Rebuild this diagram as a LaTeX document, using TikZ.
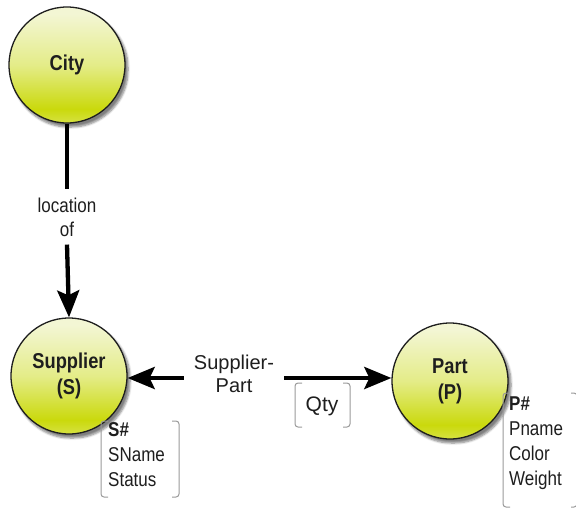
\documentclass[tikz,border=0pt]{standalone}
\usepackage{fontspec}
\setmainfont{Liberation Sans}[FakeStretch=0.85]
\newfontfamily\widesans{Liberation Sans}
\usetikzlibrary{arrows.meta,shadows.blur}

\definecolor{ballTop}{HTML}{F3F6D4}
\definecolor{ballMid}{HTML}{E4EC88}
\definecolor{ballBot}{HTML}{CAD90C}
\definecolor{ballRim}{HTML}{D4E03A}
\definecolor{bracketGray}{HTML}{9A9A9A}
\definecolor{inkDark}{HTML}{1E1E1E}

% vertical gradient of the entity balls (0bp = bottom, visible band 25bp..75bp)
\pgfdeclareverticalshading{ballshade}{100bp}{%
  color(0bp)=(ballRim); color(26bp)=(ballRim); color(31bp)=(ballBot);
  color(50bp)=(ballMid); color(72bp)=(ballTop); color(100bp)=(ballTop)}

\begin{document}
\begin{tikzpicture}[x=1pt,y=-1pt,
  entity/.style={circle, minimum size=116pt, inner sep=0pt,
    draw=inkDark, line width=1.3pt, shading=ballshade,
    blur shadow={shadow xshift=3pt, shadow yshift=-4pt, shadow opacity=50,
      shadow blur steps=6, shadow blur extra rounding=2pt},
    font=\bfseries\fontsize{21.5}{26}\selectfont, text=inkDark, align=center},
  lbl/.style={font=\fontsize{20}{24}\selectfont, text=inkDark, align=center},
  widelbl/.style={font=\widesans\fontsize{20}{23}\selectfont, text=inkDark, align=center},
  attrs/.style={font=\fontsize{20}{25}\selectfont, text=inkDark, align=left,
    anchor=north west, inner sep=0pt},
  link/.style={draw=black, line width=4.3pt},
  linkarrow/.style={link, -{Stealth[length=27pt, width=22pt, inset=5pt]}},
  bracket/.style={draw=bracketGray, line width=1pt, rounded corners=3pt},
]
\useasboundingbox (0,0) rectangle (576,509);

% entities
\node[entity] (city) at (67,65)  {\raisebox{-3pt}{City}};
\node[entity] (sup)  at (69,376) {Supplier\\(S)};
\node[entity] (part) at (450,381) {Part\\(P)};

% relationship labels
\node[lbl, inner xsep=2pt, inner ysep=8pt] (loc) at (67,217) {location\\of};
\node[widelbl, inner xsep=10pt] (sp) at (234,374) {Supplier-\\Part};

% connectors
\draw[link] (city.south) -- (loc.north);
\draw[linkarrow] (loc.south) -- (sup.north);
\coordinate (spl) at ([yshift=-4pt]sp.west);
\coordinate (spr) at ([yshift=-4pt]sp.east);
\draw[linkarrow] (spl) -- (spl -| sup.east);
\draw[linkarrow] (spr) -- (spr -| part.west);

% attribute of the relationship
\coordinate (qa) at (295,383);
\coordinate (qb) at (350,427);
\draw[bracket] ([xshift=7pt]qa) -- (qa) -- (qa |- qb) -- ([xshift=7pt]qa |- qb);
\draw[bracket] (qb |- qa) ++(-7,0) -- (qb |- qa) -- (qb) -- ++(-7,0);
\node[widelbl, font=\widesans\fontsize{21}{24}\selectfont, inner sep=0pt] (qty) at (322,406) {Qty};

% supplier attributes
\coordinate (sa) at (101,421);
\coordinate (sb) at (179,497);
\draw[bracket] ([xshift=7pt]sa) -- (sa) -- (sa |- sb) -- ([xshift=7pt]sa |- sb);
\draw[bracket] (sb |- sa) ++(-7,0) -- (sb |- sa) -- (sb) -- ++(-7,0);
\node[attrs] (satt) at (108,422) {\textbf{S\#}\\SName\\Status};

% part attributes
\coordinate (pa) at (503,393);
\coordinate (pb) at (577,507);
\draw[bracket] ([xshift=7pt]pa) -- (pa) -- (pa |- pb) -- ([xshift=7pt]pa |- pb);
\draw[bracket] (pb |- pa) ++(-6,0) -- (pb |- pa) -- (pb) -- ++(-6,0);
\node[attrs] (patt) at (509,397) {\textbf{P\#}\\Pname\\Color\\Weight};
\end{tikzpicture}
\end{document}
